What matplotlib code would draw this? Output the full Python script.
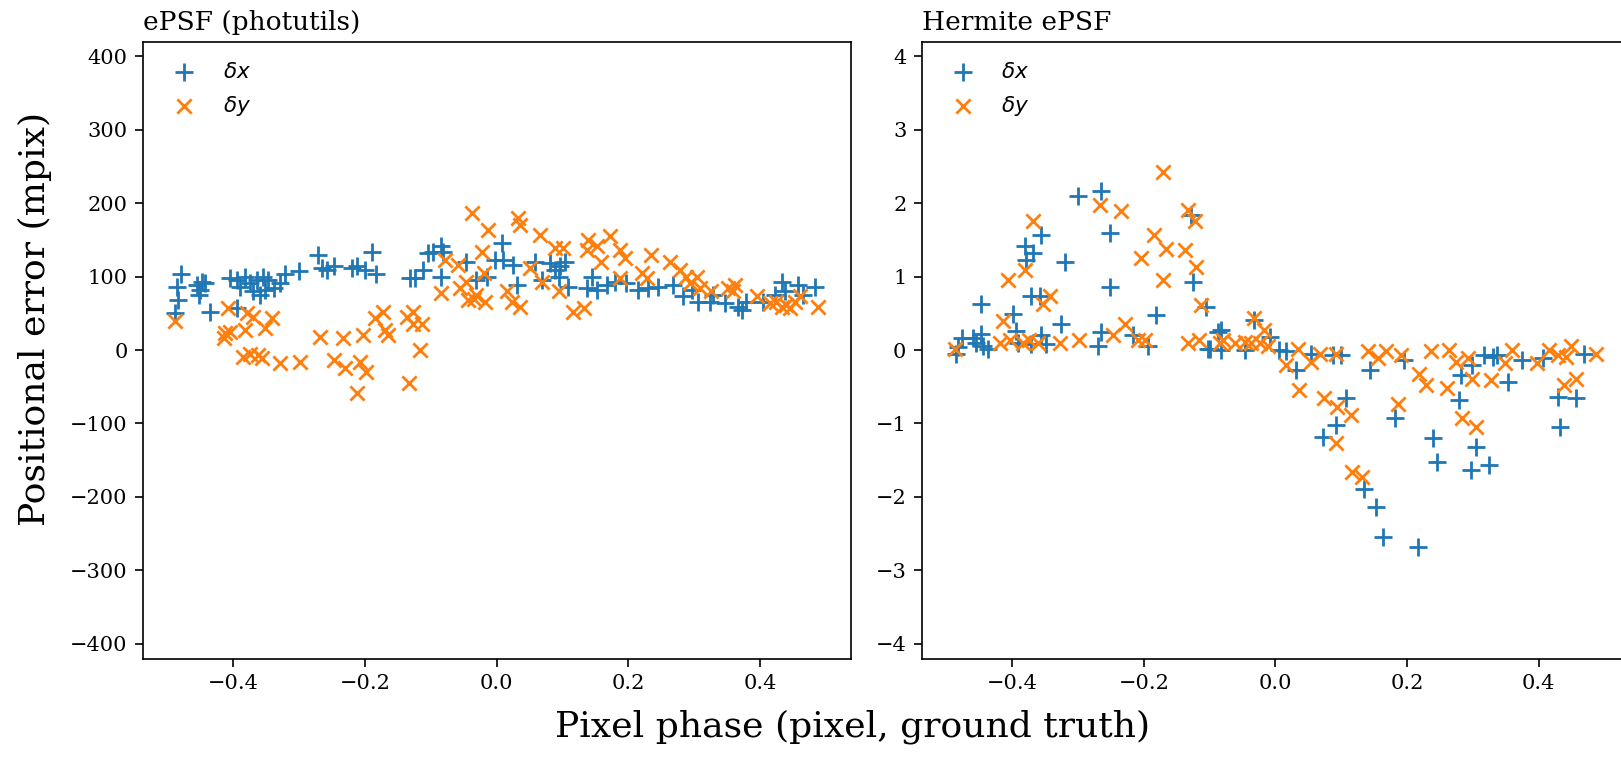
import matplotlib
matplotlib.use("Agg")
import matplotlib.pyplot as plt

# ---- data: left panel, ePSF (photutils) ----
ep_dx_phase = [-0.479, -0.486, -0.484, -0.489, -0.456, -0.451, -0.448, -0.453, -0.443, -0.436,
               -0.405, -0.395, -0.390, -0.382, -0.375, -0.370, -0.365, -0.360, -0.355, -0.352,
               -0.347, -0.395, -0.339, -0.329, -0.322, -0.301, -0.271, -0.266, -0.258, -0.248,
               -0.220, -0.213, -0.200, -0.190, -0.183, -0.132, -0.124, -0.112, -0.104, -0.097,
               -0.084, -0.081, -0.084, -0.046, -0.031, -0.015,
               0.008, -0.003, 0.010, 0.025, 0.030, 0.058, 0.068, 0.081, 0.089, 0.094,
               0.096, 0.104, 0.109, 0.137, 0.144, 0.152, 0.167, 0.180, 0.197, 0.215,
               0.230, 0.245, 0.268, 0.283, 0.296, 0.306, 0.324, 0.329, 0.347, 0.367,
               0.372, 0.379, 0.405, 0.422, 0.433, 0.438, 0.458, 0.466, 0.483]
ep_dx_err = [104, 86, 68, 50, 89, 82, 93, 75, 91, 52,
             98, 95, 86, 100, 91, 80, 95, 75, 100, 82,
             95, 57, 84, 91, 104, 107, 130, 111, 109, 114,
             111, 114, 109, 134, 104, 98, 98, 109, 132, 134,
             141, 134, 100, 120, 95, 100,
             145, 123, 123, 116, 89, 120, 95, 118, 109, 100,
             114, 120, 86, 84, 100, 82, 89, 93, 91, 82,
             84, 86, 89, 73, 82, 66, 66, 75, 64, 59,
             55, 66, 66, 75, 93, 80, 89, 75, 86]

ep_dy_phase = [-0.489, -0.408, -0.415, -0.413, -0.405, -0.382, -0.380, -0.370, -0.352, -0.342,
               -0.385, -0.375, -0.362, -0.357, -0.329, -0.299, -0.268, -0.233, -0.248, -0.231,
               -0.208, -0.198, -0.203, -0.213, -0.185, -0.173, -0.170, -0.165, -0.137, -0.127,
               -0.127, -0.114, -0.117, -0.134, -0.084, -0.079, -0.059, -0.056, -0.046, -0.043,
               -0.038, -0.031, -0.023, -0.018, -0.013, -0.020, -0.035,
               0.033, 0.035, 0.066, 0.051, 0.015, 0.023, 0.035, 0.068, 0.089, 0.101,
               0.094, 0.116, 0.132, 0.139, 0.137, 0.152, 0.159, 0.172, 0.187, 0.195,
               0.187, 0.220, 0.228, 0.235, 0.263, 0.278, 0.288, 0.293, 0.304, 0.309,
               0.326, 0.352, 0.362, 0.359, 0.395, 0.415, 0.425, 0.433, 0.440, 0.445,
               0.453, 0.461, 0.488]
ep_dy_err = [39, 57, 16, 23, 25, 27, 50, 45, 30, 43,
             -9, -5, -7, -11, -18, -17, 18, 16, -14, -25,
             -16, -30, 20, -59, 43, 52, 27, 20, 45, 52,
             36, 36, 0, -45, 77, 123, 116, 84, 93, 68,
             186, 75, 134, 66, 164, 105, 70,
             180, 170, 157, 111, 80, 66, 59, 93, 139, 139,
             80, 52, 57, 150, 136, 141, 120, 155, 136, 125,
             98, 105, 98, 130, 120, 109, 100, 91, 100, 84,
             80, 84, 89, 80, 73, 64, 66, 59, 61, 57,
             66, 73, 59]

# ---- data: right panel, Hermite ePSF ----
he_dx_phase = [-0.485, -0.477, -0.482, -0.460, -0.455, -0.447, -0.447, -0.444, -0.437, -0.399,
               -0.394, -0.391, -0.381, -0.379, -0.369, -0.371, -0.358, -0.356, -0.371, -0.356,
               -0.348, -0.326, -0.320, -0.300, -0.270, -0.265, -0.265, -0.252, -0.252, -0.217,
               -0.194, -0.181, -0.128, -0.126, -0.105, -0.100, -0.088,
               -0.083, -0.103, -0.083, -0.047, -0.032, -0.009, 0.006, 0.016, 0.031, 0.054,
               0.087, 0.100, 0.107, 0.092, 0.072, 0.135, 0.153, 0.163, 0.216, 0.143,
               0.181, 0.196, 0.239, 0.246, 0.279, 0.282, 0.299, 0.304, 0.297, 0.325,
               0.317, 0.330, 0.337, 0.353, 0.375, 0.406, 0.429, 0.456, 0.433, 0.469]
he_dx_err = [-0.05, 0.17, 0.04, 0.17, 0.10, 0.63, 0.22, 0.06, 0.01, 0.49,
             0.26, 0.10, 1.41, 1.22, 1.32, 0.74, 0.74, 1.57, 0.08, 0.20,
             0.08, 0.36, 1.20, 2.09, 0.06, 0.24, 2.16, 1.59, 0.86, 0.20,
             0.06, 0.47, 1.84, 0.93, 0.58, 0.01, 0.24,
             0.27, 0.02, 0.00, 0.00, 0.41, 0.18, 0.00, -0.02, -0.27, -0.05,
             -0.07, -0.07, -0.66, -1.02, -1.18, -1.89, -2.14, -2.55, -2.68, -0.27,
             -0.93, -0.14, -1.20, -1.52, -0.68, -0.34, -0.20, -1.32, -1.64, -1.57,
             -0.07, -0.09, -0.07, -0.43, -0.14, -0.11, -0.64, -0.66, -1.05, -0.05]

he_dy_phase = [-0.487, -0.414, -0.407, -0.381, -0.369, -0.419, -0.404, -0.384, -0.374, -0.361,
               -0.353, -0.343, -0.328, -0.298, -0.267, -0.234, -0.247, -0.229, -0.209, -0.199,
               -0.204, -0.184, -0.171, -0.166, -0.171, -0.138, -0.133, -0.123, -0.121, -0.113,
               -0.133, -0.116, -0.085,
               -0.080, -0.062, -0.047, -0.037, -0.032, -0.024, -0.017, -0.012, 0.016, 0.034,
               0.036, 0.054, 0.067, 0.074, 0.094, 0.115, 0.092, 0.117, 0.132, 0.092,
               0.140, 0.155, 0.168, 0.186, 0.191, 0.218, 0.229, 0.236, 0.264, 0.261,
               0.274, 0.284, 0.304, 0.292, 0.299, 0.327, 0.348, 0.360, 0.398, 0.416,
               0.429, 0.441, 0.449, 0.439, 0.456, 0.487]
he_dy_err = [0.01, 0.40, 0.95, 1.09, 1.75, 0.10, 0.13, 0.10, 0.13, 0.10,
             0.63, 0.74, 0.10, 0.13, 1.98, 1.89, 0.20, 0.36, 0.13, 0.13,
             1.25, 1.57, 2.43, 1.38, 0.95, 1.36, 1.91, 1.75, 1.13, 0.61,
             0.10, 0.13, 0.10,
             0.14, 0.09, 0.11, 0.09, 0.43, 0.09, 0.27, 0.05, -0.20, 0.02,
             -0.55, -0.16, -0.05, -0.66, -0.77, -0.89, -1.27, -1.66, -1.73, -0.05,
             -0.02, -0.11, -0.02, -0.73, -0.07, -0.32, -0.48, -0.02, 0.00, -0.52,
             -0.16, -0.93, -1.05, -0.11, -0.39, -0.41, -0.18, 0.00, -0.18, 0.00,
             -0.07, -0.09, 0.05, -0.48, -0.39, -0.05]

titles = ["ePSF (photutils)", "Hermite ePSF"]
left_yticks = [-400, -300, -200, -100, 0, 100, 200, 300, 400]
right_yticks = [-4, -3, -2, -1, 0, 1, 2, 3, 4]
xticks = [-0.4, -0.2, 0.0, 0.2, 0.4]

plt.rcParams["font.family"] = ["DejaVu Serif"]
plt.rcParams["mathtext.fontset"] = "dejavusans"

fig = plt.figure(figsize=(16.21, 7.70), dpi=100)
ax1 = fig.add_axes([0.0882, 0.1448, 0.4365, 0.8013])
ax2 = fig.add_axes([0.5686, 0.1448, 0.4365, 0.8013])

blue = "#1f77b4"
orange = "#ff7f0e"
plus_size = 155
cross_size = 105
lw = 2.0

panels = [
    (ax1, ep_dx_phase, ep_dx_err, ep_dy_phase, ep_dy_err, left_yticks, (-420, 420)),
    (ax2, he_dx_phase, he_dx_err, he_dy_phase, he_dy_err, right_yticks, (-4.2, 4.2)),
]
for i, (ax, xp, xe, yp, ye, yt, yl) in enumerate(panels):
    ax.scatter(xp, xe, marker="+", s=plus_size, linewidths=lw, color=blue, label=r"$\delta x$")
    ax.scatter(yp, ye, marker="x", s=cross_size, linewidths=lw, color=orange, label=r"$\delta y$")
    ax.set_xlim(-0.5375, 0.5375)
    ax.set_ylim(*yl)
    ax.set_yticks(yt)
    ax.set_xticks(xticks)
    ax.tick_params(labelsize=15, length=6, width=1.2, pad=5)
    for sp in ax.spines.values():
        sp.set_linewidth(1.2)
    ax.set_title(titles[i], loc="left", fontsize=19, pad=8)
    ax.legend(loc="upper left", frameon=False, fontsize=15.5, scatterpoints=1)

fig.text(0.0215, 0.586, "Positional error (mpix)", rotation=90, ha="center", va="center", fontsize=26)
fig.text(0.5257, 0.056, "Pixel phase (pixel, ground truth)", ha="center", va="center", fontsize=26)

fig.savefig("out.png", dpi=100)
